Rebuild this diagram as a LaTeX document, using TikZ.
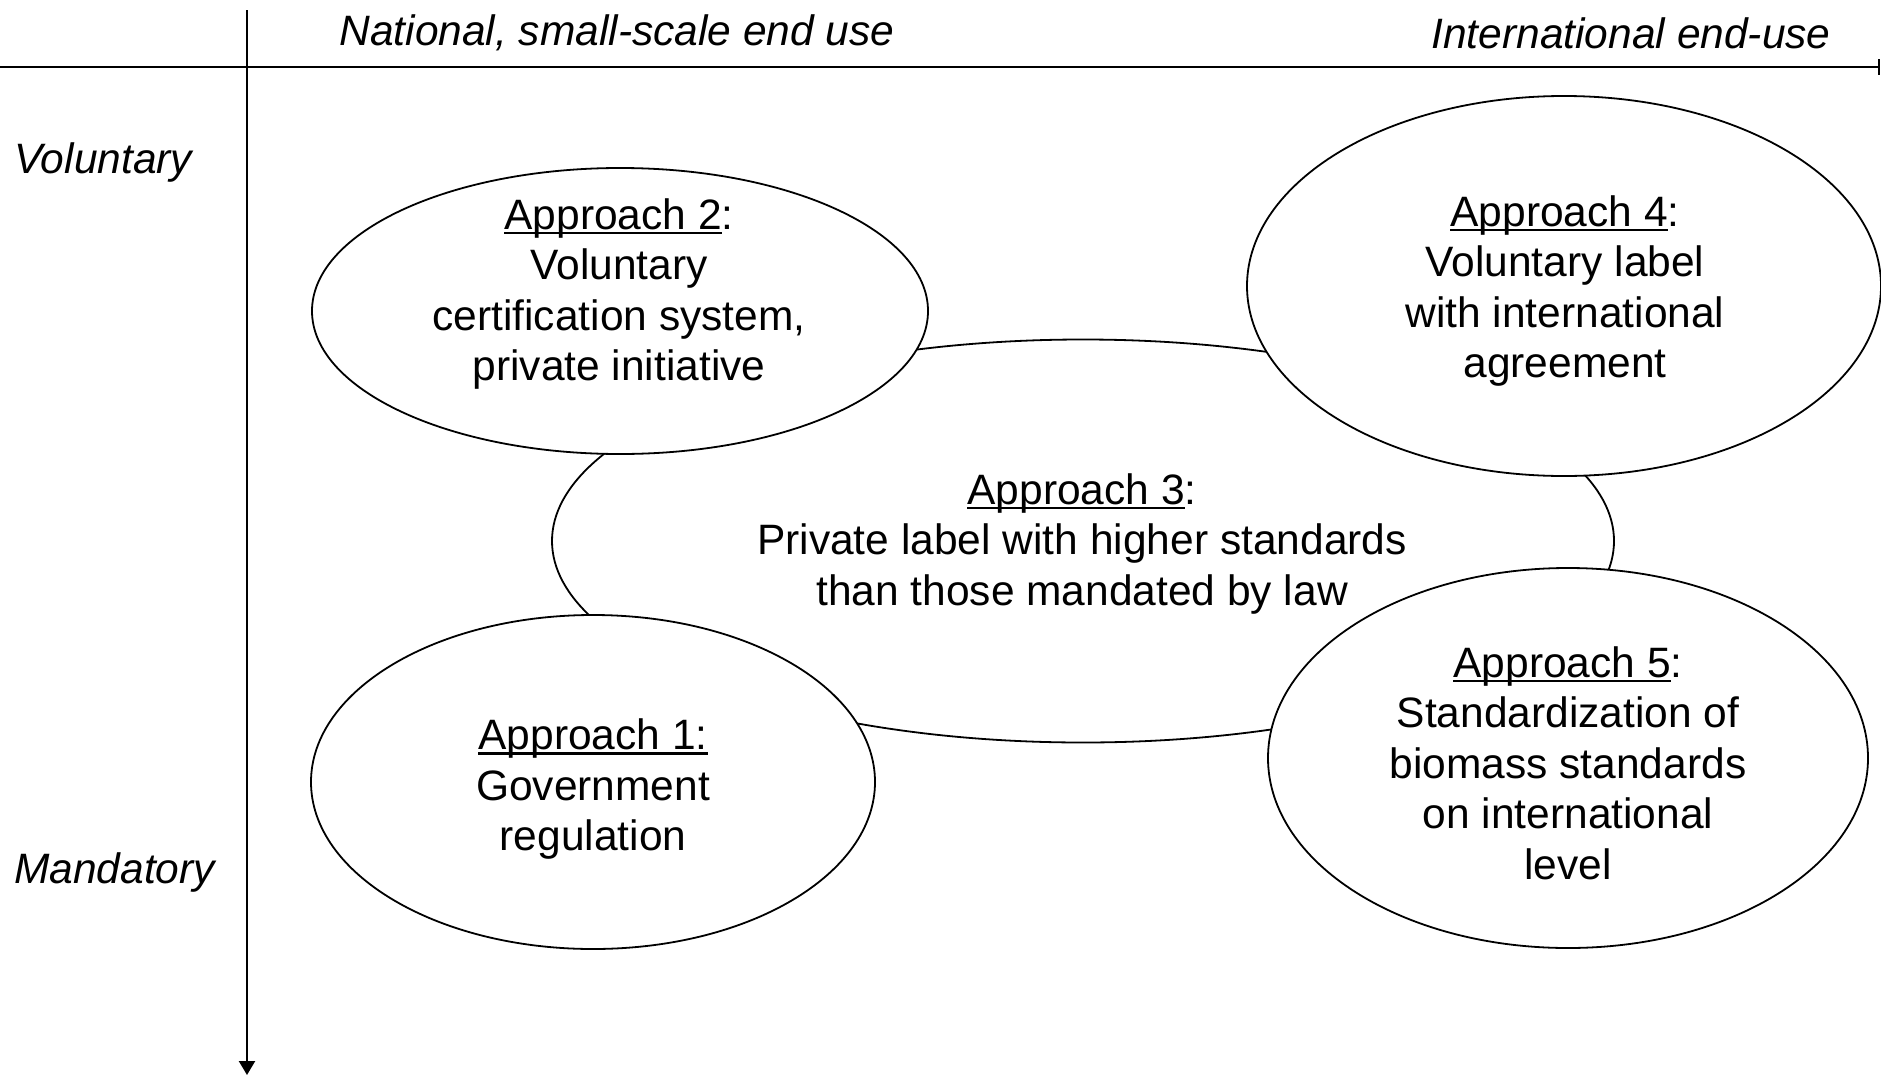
\documentclass[tikz,border=0pt]{standalone}
\usepackage{fontspec}
\setmainfont{Liberation Sans}
\usetikzlibrary{shapes.geometric,arrows.meta}
\newcommand\myul[1]{\setbox0\hbox{#1}\rlap{\rule[-5pt]{\wd0}{2.4pt}}\box0}
\tikzset{
  appr/.style={ellipse,draw=black,fill=white,line width=1.8pt,inner sep=0pt},
  txt/.style={align=center,font=\fontsize{42.5}{50.5}\selectfont,inner sep=0pt},
  axlab/.style={font=\fontsize{42.5}{50}\selectfont\itshape,inner sep=0pt},
  axis/.style={line width=2.2pt}
}
\begin{document}
\begin{tikzpicture}[x=1pt,y=-1pt]
\useasboundingbox (0,0) rectangle (1881,1076);
% axes
\coordinate (vtop) at (247,10);
\coordinate (vbot) at (247,1075);
\coordinate (hl) at (0,67);
\coordinate (hr) at (1880,67);
\draw[axis,-{Triangle[width=16pt,length=14pt]}] (vtop) -- (vbot);
\draw[axis,-{Bar[width=16pt]}] (hl) -- (hr);
% axis labels
\node[axlab] (lnat) at (617,33) {National, small-scale end use};
\node[axlab] (lint) at (1631,33) {International end-use};
\node[axlab,anchor=west] (lvol) at (14,163) {Voluntary};
\node[axlab,anchor=west] (lman) at (14,872) {Mandatory};
% ellipses
\node[appr,minimum width=1062pt,minimum height=403pt] (e3) at (1083,541) {};
\node[appr,minimum width=616pt,minimum height=286pt] (e2) at (620,311) {};
\node[appr,minimum width=634pt,minimum height=380pt] (e4) at (1564,286) {};
\node[appr,minimum width=564pt,minimum height=334pt] (e1) at (593,782) {};
\node[appr,minimum width=600pt,minimum height=380pt] (e5) at (1568,758) {};
% texts
\node[txt] (t2) at (619,294) {\myul{Approach 2}:\\Voluntary\\certification system,\\private initiative};
\node[txt] (t4) at (1565,291) {\myul{Approach 4}:\\Voluntary label\\with international\\agreement};
\node[txt] (t3) at (1082,544) {\myul{Approach 3}:\\Private label with higher standards\\than those mandated by law};
\node[txt] (t1) at (593,789) {\myul{Approach 1:}\\Government\\regulation};
\node[txt] (t5) at (1568,763) {\myul{Approach 5}:\\Standardization of\\biomass standards\\on international\\level};
\end{tikzpicture}
\end{document}
